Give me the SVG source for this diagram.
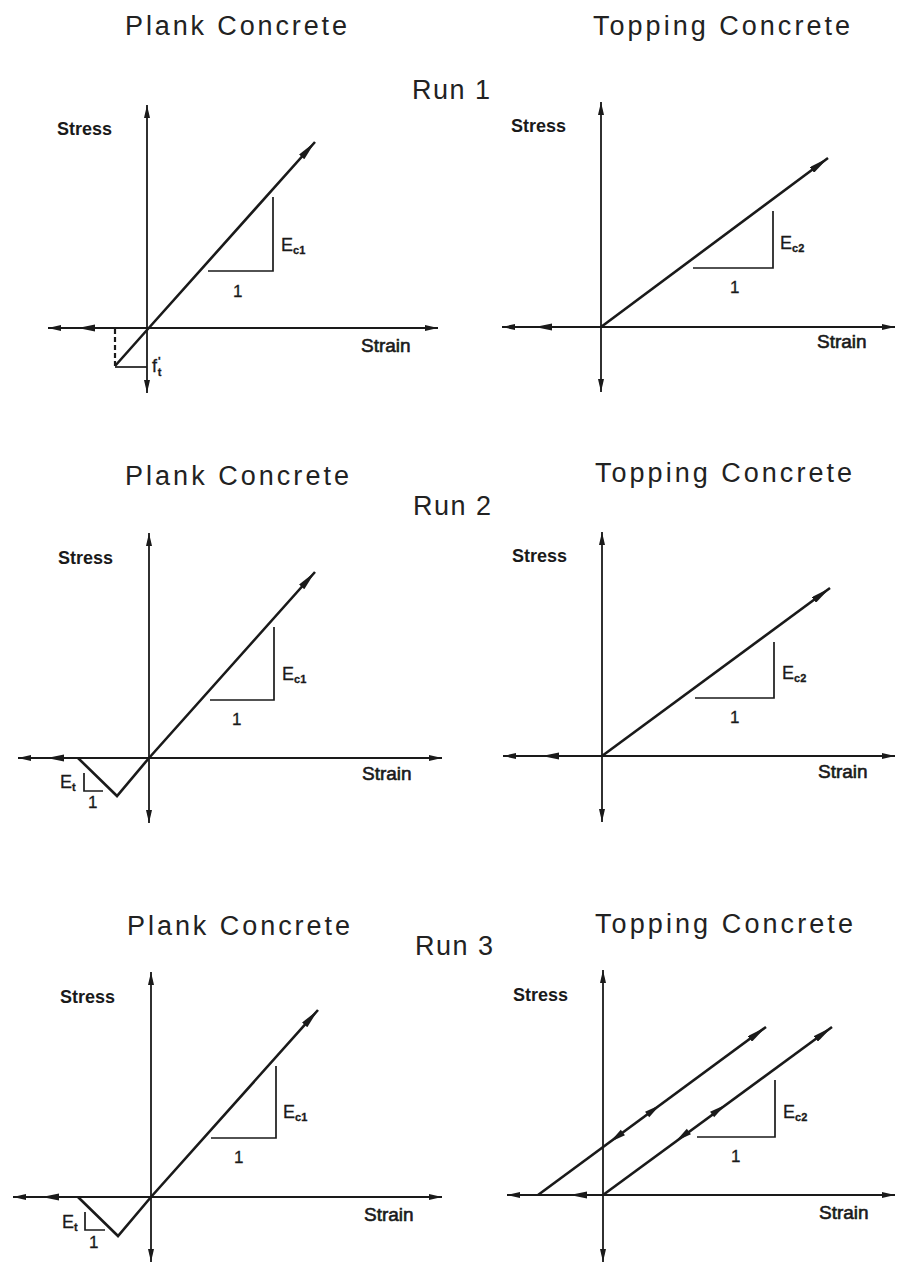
<svg xmlns="http://www.w3.org/2000/svg" xmlns:xlink="http://www.w3.org/1999/xlink" width="897" height="1270" viewBox="0 0 897 1270">
<style>
.ax{stroke:#1a1a1a;stroke-width:1.8;fill:none;marker-start:url(#ah);marker-end:url(#ah)}
.dg{stroke:#1a1a1a;stroke-width:2.6;fill:none;stroke-linejoin:miter}
.dge{marker-end:url(#ahb)}
.tri{stroke:#1a1a1a;stroke-width:1.7;fill:none}
.title{font-family:"Liberation Sans","DejaVu Sans",sans-serif;font-size:27px;fill:#222}
.lab{font-family:"Liberation Sans","DejaVu Sans",sans-serif;font-size:18px;font-weight:bold;fill:#1a1a1a}
.strain{font-family:"Liberation Sans","DejaVu Sans",sans-serif;font-size:19px;fill:#1a1a1a;stroke:#1a1a1a;stroke-width:0.6}
.sym{font-family:"Liberation Sans","DejaVu Sans",sans-serif;font-size:18px;fill:#1a1a1a;stroke:#1a1a1a;stroke-width:0.3}
.sub{font-size:11px;font-weight:bold}
.one{font-family:"Liberation Sans","DejaVu Sans",sans-serif;font-size:17px;fill:#1a1a1a;stroke:#1a1a1a;stroke-width:0.3}
.hd{fill:#1a1a1a}
</style>
<defs>
<marker id="ah" viewBox="0 0 13 6" refX="13" refY="3" markerWidth="13" markerHeight="6" markerUnits="userSpaceOnUse" orient="auto-start-reverse"><path d="M0,0 L13,3 L0,6 Z" fill="#1a1a1a"/></marker>
<marker id="ahb" viewBox="0 0 20 7" refX="20" refY="3.5" markerWidth="20" markerHeight="7" markerUnits="userSpaceOnUse" orient="auto"><path d="M0,0 L20,3.5 L0,7 Z" fill="#1a1a1a"/></marker>
<path id="mh" d="M0,0 L-17,-3.5 L-17,3.5 Z"/>
<path id="mh2" d="M0,0 L-16,-3.5 L-16,3.5 Z"/>
</defs>

<g id="titles">
<text class="title" x="125" y="35" textLength="222" lengthAdjust="spacing">Plank Concrete</text>
<text class="title" x="593" y="35" textLength="257" lengthAdjust="spacing">Topping Concrete</text>
<text class="title" x="412" y="99" textLength="78" lengthAdjust="spacing">Run 1</text>
<text class="title" x="125" y="485" textLength="224" lengthAdjust="spacing">Plank Concrete</text>
<text class="title" x="595" y="482" textLength="257" lengthAdjust="spacing">Topping Concrete</text>
<text class="title" x="413" y="515" textLength="78" lengthAdjust="spacing">Run 2</text>
<text class="title" x="127" y="935" textLength="223" lengthAdjust="spacing">Plank Concrete</text>
<text class="title" x="595" y="933" textLength="258" lengthAdjust="spacing">Topping Concrete</text>
<text class="title" x="415" y="955" textLength="78" lengthAdjust="spacing">Run 3</text>
</g>

<g id="run1-plank">
<line class="ax" x1="147" y1="393" x2="147" y2="105"/>
<line class="ax" x1="48" y1="328" x2="438" y2="328"/>
<use xlink:href="#mh" class="hd" transform="translate(78,328) rotate(180)"/>
<polyline class="dg dge" points="115,366 147,330 315,142"/>
<line x1="115" y1="329" x2="115" y2="366" stroke="#1a1a1a" stroke-width="2.2" stroke-dasharray="5,3"/>
<line class="tri" x1="115" y1="367" x2="147" y2="367"/>
<polyline class="tri" points="208,271 273,271 273,197"/>
<text class="lab" x="57" y="135">Stress</text>
<text class="strain" x="361" y="352">Strain</text>
<text class="sym" x="281" y="251">E<tspan class="sub" dy="3">c1</tspan></text>
<text class="one" x="233" y="297">1</text>
<text class="sym" x="152" y="372">f<tspan class="sub" dx="1" dy="-7">'</tspan><tspan class="sub" dx="-3" dy="11">t</tspan></text>
</g>

<g id="run1-topping">
<line class="ax" x1="601" y1="392" x2="601" y2="102"/>
<line class="ax" x1="502" y1="327" x2="895" y2="327"/>
<use xlink:href="#mh" class="hd" transform="translate(535,327) rotate(180)"/>
<line class="dg dge" x1="601" y1="327" x2="828" y2="158"/>
<polyline class="tri" points="693,268 773,268 773,211"/>
<text class="lab" x="511" y="132">Stress</text>
<text class="strain" x="817" y="348">Strain</text>
<text class="sym" x="780" y="249">E<tspan class="sub" dy="3">c2</tspan></text>
<text class="one" x="730" y="293">1</text>
</g>

<g id="run2-plank">
<line class="ax" x1="149" y1="823" x2="149" y2="533"/>
<line class="ax" x1="18" y1="758" x2="442" y2="758"/>
<use xlink:href="#mh" class="hd" transform="translate(47,758) rotate(180)"/>
<polyline class="dg dge" points="78,758 117,796 149,758 315,572"/>
<polyline class="tri" points="84,773 84,791 103,791"/>
<polyline class="tri" points="210,700 274,700 274,627"/>
<text class="lab" x="58" y="564">Stress</text>
<text class="strain" x="362" y="780">Strain</text>
<text class="sym" x="282" y="680">E<tspan class="sub" dy="3">c1</tspan></text>
<text class="one" x="232" y="725">1</text>
<text class="sym" x="60" y="788">E<tspan class="sub" dy="3">t</tspan></text>
<text class="one" x="88" y="808">1</text>
</g>

<g id="run2-topping">
<line class="ax" x1="602" y1="822" x2="602" y2="532"/>
<line class="ax" x1="503" y1="756" x2="895" y2="756"/>
<use xlink:href="#mh" class="hd" transform="translate(542,756) rotate(180)"/>
<line class="dg dge" x1="602" y1="756" x2="830" y2="588"/>
<polyline class="tri" points="695,698 774,698 774,642"/>
<text class="lab" x="512" y="562">Stress</text>
<text class="strain" x="818" y="778">Strain</text>
<text class="sym" x="782" y="679">E<tspan class="sub" dy="3">c2</tspan></text>
<text class="one" x="730" y="723">1</text>
</g>

<g id="run3-plank">
<line class="ax" x1="151" y1="1262" x2="151" y2="972"/>
<line class="ax" x1="13" y1="1197" x2="442" y2="1197"/>
<use xlink:href="#mh" class="hd" transform="translate(42,1197) rotate(180)"/>
<polyline class="dg dge" points="78,1197 118,1236 151,1197 318,1010"/>
<polyline class="tri" points="85,1212 85,1230 105,1230"/>
<polyline class="tri" points="211,1138 276,1138 276,1066"/>
<text class="lab" x="60" y="1003">Stress</text>
<text class="strain" x="364" y="1221">Strain</text>
<text class="sym" x="283" y="1118">E<tspan class="sub" dy="3">c1</tspan></text>
<text class="one" x="234" y="1163">1</text>
<text class="sym" x="62" y="1228">E<tspan class="sub" dy="3">t</tspan></text>
<text class="one" x="89" y="1248">1</text>
</g>

<g id="run3-topping">
<line class="ax" x1="603" y1="1262" x2="603" y2="970"/>
<line class="ax" x1="507" y1="1195" x2="895" y2="1195"/>
<use xlink:href="#mh" class="hd" transform="translate(570,1195) rotate(180)"/>
<line class="dg dge" x1="603" y1="1195" x2="832" y2="1027"/>
<line class="dg dge" x1="538" y1="1195" x2="766" y2="1027"/>
<use xlink:href="#mh2" class="hd" transform="translate(660,1105) rotate(-36.4)"/>
<use xlink:href="#mh2" class="hd" transform="translate(610,1142) rotate(143.6)"/>
<use xlink:href="#mh2" class="hd" transform="translate(725,1105) rotate(-36.3)"/>
<use xlink:href="#mh2" class="hd" transform="translate(676,1141) rotate(143.7)"/>
<polyline class="tri" points="697,1137 775,1137 775,1080"/>
<text class="lab" x="513" y="1001">Stress</text>
<text class="strain" x="819" y="1219">Strain</text>
<text class="sym" x="783" y="1118">E<tspan class="sub" dy="3">c2</tspan></text>
<text class="one" x="731" y="1162">1</text>
</g>
</svg>
